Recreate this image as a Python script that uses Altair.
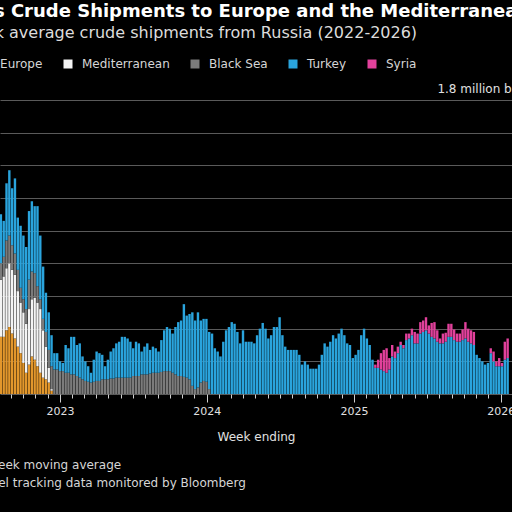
import altair as alt
import pandas as pd

# ---- data (million barrels a day, 4-week average), weekly from week ending 2022-08-07 ----
first_week = "2022-08-07"
n_weeks = 181

europe = [0.35, 0.35, 0.39, 0.41, 0.37, 0.34, 0.29, 0.25, 0.19, 0.13, 0.18, 0.23, 0.21, 0.17,
          0.13, 0.10, 0.09, 0.07, 0.02]
europe_start = 0

mediterranean = [0.35, 0.37, 0.38, 0.39, 0.39, 0.39, 0.34, 0.31, 0.31, 0.30, 0.34, 0.35, 0.38,
                 0.39, 0.39, 0.29, 0.20, 0.09, 0.01]
mediterranean_start = 0

black_sea = [0.10, 0.12, 0.17, 0.17, 0.15, 0.13, 0.13, 0.09, 0.08, 0.09, 0.18, 0.17, 0.15, 0.10, 0.06,
             0.07, 0.09, 0.11, 0.14,
             0.15, 0.15, 0.14, 0.14, 0.13, 0.13, 0.12, 0.12, 0.11, 0.10, 0.09,
             0.08, 0.075, 0.07, 0.075, 0.08, 0.08,
             0.09, 0.09, 0.09, 0.095, 0.095, 0.10, 0.10, 0.10, 0.10, 0.10, 0.10, 0.11, 0.11, 0.11,
             0.12, 0.12, 0.12, 0.125, 0.13, 0.13, 0.13, 0.135,
             0.14, 0.14, 0.14, 0.13, 0.12,
             0.11, 0.11, 0.105, 0.10, 0.09,
             0.05, 0.03, 0.04,
             0.07, 0.08, 0.075,
             0.03]
black_sea_start = 0

turkey = [0.30, 0.22, 0.35, 0.40, 0.35, 0.46, 0.32, 0.38, 0.39, 0.38, 0.42, 0.43, 0.41, 0.49, 0.39,
          0.32, 0.24, 0.23, 0.19,
          0.10, 0.10, 0.06, 0.05, 0.17, 0.15, 0.23, 0.23, 0.19, 0.21, 0.14,
          0.12, 0.095, 0.06, 0.135, 0.18, 0.17,
          0.15, 0.08, 0.12, 0.165, 0.185, 0.21, 0.22, 0.25, 0.25, 0.24, 0.22, 0.17, 0.21, 0.20,
          0.14, 0.17, 0.19, 0.145, 0.16, 0.15, 0.13, 0.195,
          0.25, 0.27, 0.26, 0.24, 0.29,
          0.33, 0.34, 0.445, 0.38, 0.40,
          0.45, 0.42, 0.46,
          0.38, 0.38, 0.385,
          0.35,
          0.37, 0.28, 0.26, 0.23, 0.32, 0.39, 0.41, 0.44, 0.43, 0.38, 0.31, 0.39, 0.32, 0.32, 0.32, 0.31,
          0.36, 0.40, 0.435, 0.40, 0.34, 0.36, 0.41, 0.41, 0.47, 0.36, 0.29, 0.27, 0.27, 0.27,
          0.27, 0.24, 0.18, 0.20, 0.18, 0.155, 0.155, 0.155, 0.18, 0.24, 0.31, 0.29, 0.32, 0.36,
          0.34, 0.37, 0.40, 0.36, 0.31, 0.30, 0.22, 0.24, 0.27, 0.36, 0.40, 0.34, 0.30, 0.21,
          0.16, 0.16, 0.15, 0.14, 0.13, 0.15, 0.23, 0.22, 0.25, 0.30, 0.28, 0.33, 0.34, 0.36,
          0.31, 0.31, 0.37, 0.38, 0.39, 0.37, 0.35, 0.34, 0.32, 0.31,
          0.31, 0.32, 0.35, 0.35, 0.33, 0.32, 0.32, 0.33, 0.34, 0.32,
          0.31, 0.30, 0.24, 0.22, 0.20, 0.18, 0.19, 0.25, 0.20, 0.17,
          0.17, 0.17, 0.21, 0.22]
turkey_start = 0

syria = [0.02, 0.05, 0.10, 0.13, 0.15, 0.07, 0.07, 0.04, 0.04, 0.02, 0.02, 0.04, 0.03, 0.04,
         0.07, 0.06, 0.07, 0.07, 0.08, 0.05, 0.085, 0.10, 0.07, 0.03,
         0.06, 0.055, 0.08, 0.08, 0.065, 0.05, 0.05, 0.065, 0.10, 0.08,
         0.08, 0.08, 0.0, 0.0, 0.0, 0.0, 0.0, 0.03, 0.06, 0.03,
         0.05, 0.02, 0.11, 0.12]
syria_start = 133

series_names = ["Northern Europe", "Mediterranean", "Black Sea", "Turkey", "Syria"]
series_colors = ["#e3972c", "#f4f4f4", "#7b7b7b", "#2aa4dd", "#e2419c"]
y_ticks = [0, 0.2, 0.4, 0.6, 0.8, 1.0, 1.2, 1.4, 1.6, 1.8]

# ---- long table ----
weeks = pd.date_range(first_week, periods=n_weeks, freq="7D")
rows = []
for k, (name, vals, st) in enumerate([
        ("Northern Europe", europe, europe_start),
        ("Mediterranean", mediterranean, mediterranean_start),
        ("Black Sea", black_sea, black_sea_start),
        ("Turkey", turkey, turkey_start),
        ("Syria", syria, syria_start)]):
    for i, v in enumerate(vals):
        rows.append({"week": weeks[st + i], "region": name, "order": k, "value": v})
df = pd.DataFrame(rows)

month_ticks = []
for y in range(2022, 2027):
    for m in range(1, 13):
        if (y == 2022 and m < 8) or (y == 2026 and m > 1):
            continue
        month_ticks.append(alt.DateTime(year=y, month=m, date=1))

FONT = "DejaVu Sans"

bars = alt.Chart(df).mark_bar(width=2.4).encode(
    x=alt.X(
        "week:T",
        scale=alt.Scale(
            domain=[alt.DateTime(year=2022, month=8, date=4, hours=19),
                    alt.DateTime(year=2026, month=1, date=28, hours=20)],
            nice=False, padding=0),
        axis=alt.Axis(
            values=month_ticks,
            labelExpr="month(datum.value) == 0 ? timeFormat(datum.value, '%Y') : ''",
            tickSize={"condition": {"test": "month(datum.value) == 0", "value": 8}, "value": 4},
            tickColor="#cfcfcf", tickWidth=1,
            labelColor="#e0e0e0", labelFont=FONT, labelFontSize=11, labelPadding=3,
            labelFlush=False, labelOverlap=False,
            domain=False, grid=False,
            title="Week ending", titleFont=FONT, titleFontSize=12, titleFontWeight="normal",
            titleColor="#e0e0e0", titlePadding=15),
    ),
    y=alt.Y(
        "sum(value):Q",
        stack="zero",
        scale=alt.Scale(domain=[0, 1.8], nice=False),
        axis=alt.Axis(
            orient="right", values=y_ticks, grid=True, gridColor="#5a5a5a", gridWidth=1,
            domain=False, ticks=False, labelAlign="right", labelPadding=70,
            labelBaseline="alphabetic", labelOffset=-8,
            labelExpr="datum.value > 1.79 ? '1.8 million barrels a day' : ''",
            labelColor="#e0e0e0", labelFont=FONT, labelFontSize=12,
            labelFlush=False, labelOverlap=False, title=None),
    ),
    color=alt.Color(
        "region:N",
        scale=alt.Scale(domain=series_names, range=series_colors),
        legend=alt.Legend(
            orient="none", legendX=-77, legendY=-42, direction="horizontal", title=None,
            symbolType="square", symbolSize=81, symbolStrokeWidth=0, symbolOpacity=1,
            labelFont=FONT, labelFontSize=12, labelColor="#d6d6d6", labelOffset=8,
            columnPadding=19),
    ),
    order=alt.Order("order:Q", sort="ascending"),
)

footer = alt.Chart(alt.Data(values=[{}])).mark_text(
    align="left", baseline="middle", font=FONT, fontSize=12, color="#d6d6d6",
    lineBreak="\n", lineHeight=18,
).encode(
    x=alt.value(-78),
    y=alt.value(365),
    text=alt.value("Note: Four-week moving average\nSource: Vessel tracking data monitored by Bloomberg"),
)

chart = alt.layer(bars, footer).properties(
    width=512,
    height=294,
    title=alt.TitleParams(
        text="Russia's Crude Shipments to Europe and the Mediterranean",
        subtitle="Four-week average crude shipments from Russia (2022-2026)",
        anchor="start", frame="group", dx=-78,
        font=FONT, fontSize=18, fontWeight="bold", color="#ffffff",
        subtitleFont=FONT, subtitleFontSize=16, subtitleColor="#dcdcdc",
        subtitlePadding=4, offset=17),
    autosize=alt.AutoSizeParams(type="none"),
    padding={"left": 0, "top": 100, "right": 0, "bottom": 118},
    background="#000000",
).configure_view(stroke=None)

chart.save("out.html", embed_options={"renderer": "svg", "actions": False})
